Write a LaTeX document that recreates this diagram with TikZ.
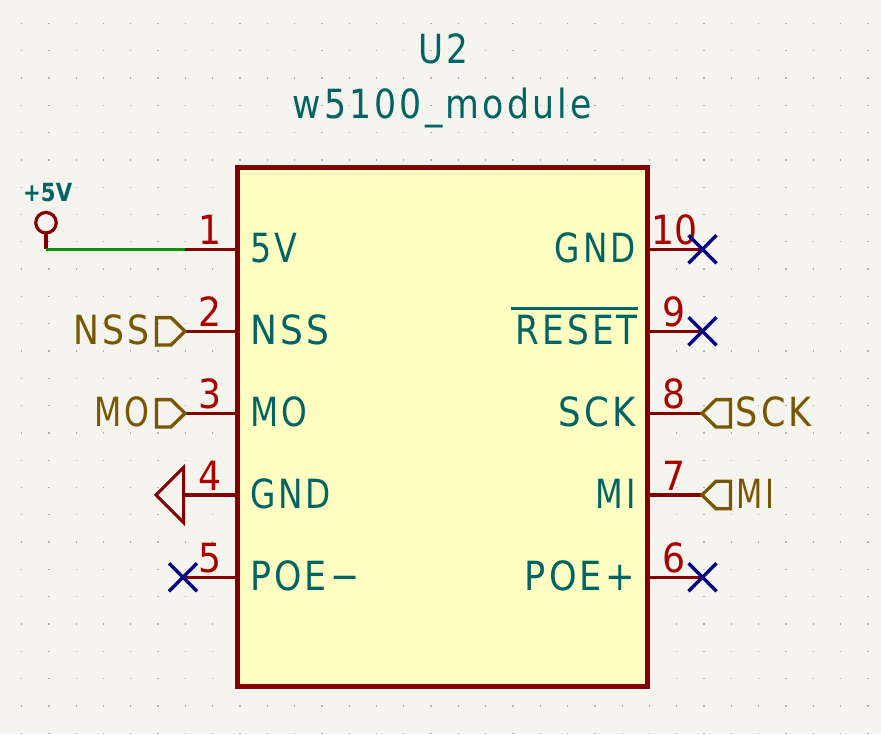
\documentclass[tikz,border=0pt]{standalone}
\usepackage{fontspec}
\usepackage{graphicx}
\usetikzlibrary{calc}
\setmainfont{DejaVu Sans}
\definecolor{bgc}{HTML}{F5F4EF}
\definecolor{dotc}{HTML}{B0B0A8}
\definecolor{bodyc}{HTML}{840000}
\definecolor{fillc}{HTML}{FFFFC2}
\definecolor{txtc}{HTML}{006464}
\definecolor{numc}{HTML}{A90000}
\definecolor{labc}{HTML}{785700}
\definecolor{ncc}{HTML}{000084}
\definecolor{wirec}{HTML}{009600}
\newfontfamily\kifont[LetterSpace=9]{DejaVu Sans}
\newcommand{\fw}[2]{\resizebox{#1pt}{\height}{\fontsize{40.2}{40.2}\kifont #2}}
\newcommand{\dg}[1]{\resizebox{!}{\height}{\scalebox{0.9}[1]{\fontsize{40.2}{40.2}\selectfont #1}}}
\tikzset{
  x=1pt,y=-1pt,
  pinline/.style={draw=bodyc,line width=3.3pt},
  pname/.style={inner sep=0pt,text=txtc,anchor=base west},
  pnameR/.style={inner sep=0pt,text=txtc,anchor=base east},
  num/.style={inner sep=0pt,text=numc,anchor=base},
  hlab/.style={inner sep=0pt,text=labc},
  hflag/.style={draw=labc,line width=3.3pt,line join=miter},
  noconn/.style={draw=ncc,line width=3.3pt},
}
\begin{document}
\begin{tikzpicture}
\useasboundingbox[fill=bgc] (0,0) rectangle (881,734);
% grid
\foreach \i in {0,...,31}{\foreach \j in {0,...,26}{
  \fill[dotc] ({21.5+27.3*\i-0.6},{23.3+27.3*\j-0.6}) rectangle ++(1.3,1.3);}}
% body
\node[draw=bodyc,fill=fillc,line width=5pt,minimum width=410pt,minimum height=519pt,inner sep=0pt,outer sep=0pt,anchor=north west] (U) at (237.5,167.5) {};
% title
\node[inner sep=0pt,text=txtc,anchor=base west] (ref) at (418,63) {\fw{50}{U2}};
\node[inner sep=0pt,text=txtc,anchor=base west] (val) at (292.5,118.3) {\fw{299}{w5100\_module}};
% pin ends
\foreach \n/\x/\y in {p1/237.5/249.3,p2/237.5/331.3,p3/237.5/413.3,p4/237.5/495,p5/237.5/577.3,
  p10/647.5/249.3,p9/647.5/331.3,p8/647.5/413.3,p7/647.5/495,p6/647.5/577.3,
  e1/185/249.3,e2/185/331.3,e3/185/413.3,e4/183.5/495,e5/183/577.3,
  e10/702.5/249.3,e9/702.5/331.3,e8/702/413.3,e7/702/495,e6/702.5/577.3,
  w1/46/249.3}
  \coordinate (\n) at (\x,\y);
\foreach \a/\b in {p1/e1,p2/e2,p3/e3,p4/e4,p5/e5,p10/e10,p9/e9,p8/e8,p7/e7,p6/e6}
  \draw[pinline] (\a) -- (\b);
% pin names
\node[pname] (n1) at (250.5,262.7) {\fw{47}{5V}};
\node[pname] (n2) at (250,344.7) {\fw{79}{NSS}};
\node[pname] (n3) at (250,426.7) {\fw{57}{MO}};
\node[pname] (n4) at (250,508.4) {\fw{81}{GND}};
\node[pname] (n5) at (250,590.7) {\fw{109}{POE−}};
\node[pnameR] (n10) at (636,262.7) {\fw{81}{GND}};
\node[pnameR] (n9) at (638,344.7) {\fw{122}{RESET}};
\node[pnameR] (n8) at (635.5,426.7) {\fw{77}{SCK}};
\node[pnameR] (n7) at (636,508.4) {\fw{40}{MI}};
\node[pnameR] (n6) at (635,590.7) {\fw{110}{POE+}};
\draw[draw=txtc,line width=3pt] (511,308.3) -- (638,308.3);
% pin numbers
\node[num] (q1) at (210.5,244.7) {\dg{1}};
\node[num] (q2) at (210.5,326.7) {\dg{2}};
\node[num] (q3) at (210.5,408.7) {\dg{3}};
\node[num] (q4) at (210.5,490.4) {\dg{4}};
\node[num] (q5) at (210.5,572.7) {\dg{5}};
\node[num] (q10) at (674.5,244.5) {\dg{10}};
\node[num] (q9) at (674.5,326.7) {\dg{9}};
\node[num] (q8) at (674.5,408.7) {\dg{8}};
\node[num] (q7) at (674.5,490.4) {\dg{7}};
\node[num] (q6) at (674.5,572.7) {\dg{6}};
% power symbol
\node[circle,draw=bodyc,line width=3.2pt,minimum size=20.5pt,inner sep=0pt,outer sep=0pt] (pw) at (46,222.7) {};
\draw[draw=bodyc,line width=3.2pt] (pw.south) -- (w1);
\draw[draw=wirec,line width=3.3pt] (w1) -- (e1);
\node[inner sep=0pt,text=txtc,anchor=base west,font=\bfseries] (pwl) at (23,201) {\resizebox{49pt}{\height}{\fontsize{25}{25}\selectfont +5V}};
% hierarchical labels
\draw[hflag] (e2) -- ++(-14,-13.7) -- ++(-14.5,0) -- ++(0,27.4) -- ++(14.5,0) -- cycle;
\draw[hflag] (e3) -- ++(-14,-13.7) -- ++(-14.5,0) -- ++(0,27.4) -- ++(14.5,0) -- cycle;
\draw[hflag] (e8) -- ++(14,-13.7) -- ++(14.5,0) -- ++(0,27.4) -- ++(-14.5,0) -- cycle;
\draw[hflag] (e7) -- ++(14,-13.7) -- ++(14.5,0) -- ++(0,27.4) -- ++(-14.5,0) -- cycle;
\node[hlab,anchor=base east] (l2) at (149.5,344.7) {\fw{76}{NSS}};
\node[hlab,anchor=base east] (l3) at (149.5,426.7) {\fw{55}{MO}};
\node[hlab,anchor=base west] (l8) at (735.5,426.7) {\fw{76}{SCK}};
\node[hlab,anchor=base west] (l7) at (736,508.4) {\fw{38}{MI}};
% ground
\draw[draw=bodyc,line width=3pt,line join=miter] (e4) ++(0,-27.5) -- ++(0,55) -- (156,495) -- cycle;
% no connects
\foreach \c in {e5,e10,e9,e6}{
  \draw[noconn] ($(\c)+(-14,-14)$) -- ($(\c)+(14,14)$);
  \draw[noconn] ($(\c)+(-14,14)$) -- ($(\c)+(14,-14)$);
}
\end{tikzpicture}
\end{document}
